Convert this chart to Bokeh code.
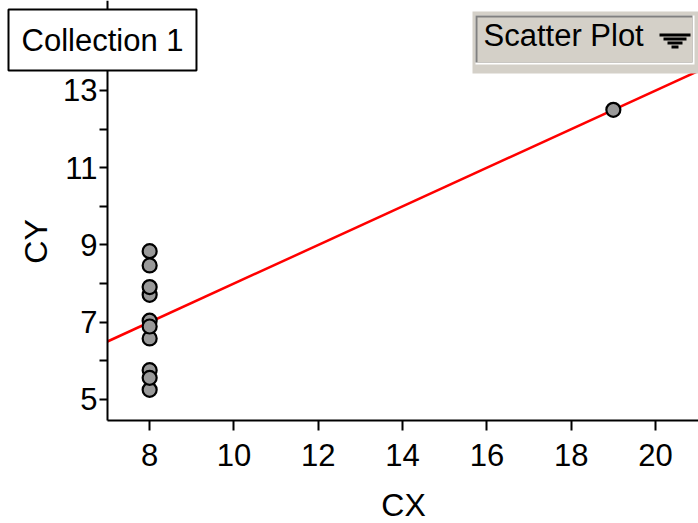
import numpy as np
from bokeh.plotting import figure
from bokeh.models import Label, BoxAnnotation, FixedTicker, Range1d
from bokeh.embed import file_html
from bokeh.resources import INLINE

# Data (Anscombe-like collection)
cx = [8, 8, 8, 8, 8, 8, 8, 19, 8, 8, 8]
cy = [6.58, 5.76, 7.71, 8.84, 8.47, 7.04, 5.25, 12.50, 5.56, 7.91, 6.89]
x_ticks = [8, 10, 12, 14, 16, 18, 20]
y_ticks = [5, 6, 7, 8, 9, 10, 11, 12, 13, 14, 15]
y_labeled = [5, 7, 9, 11, 13]
collection_name = "Collection 1"
menu_text = "Scatter Plot"
x_title = "CX"
y_title = "CY"
X_MIN, X_MAX = 7, 21.02      # extent of the x axis
Y_MIN, Y_MAX = 4.456, 15.33  # extent of the y axis

slope, intercept = np.polyfit(cx, cy, 1)

W, H = 698, 523
AX_LEFT, AX_BOTTOM = 107, 420    # pixel position of the y axis / x axis
PX_PER_X = (W - AX_LEFT) / (X_MAX - X_MIN)
PX_PER_Y = AX_BOTTOM / (Y_MAX - Y_MIN)
FONT = "Liberation Sans"

def sx(px):
    return px

def sy(py):
    return H - py

p = figure(width=W, height=H, output_backend="svg", toolbar_location=None,
           x_range=Range1d(X_MIN - AX_LEFT / PX_PER_X, X_MAX),
           y_range=Range1d(Y_MIN - (H - AX_BOTTOM) / PX_PER_Y, Y_MAX),
           min_border_left=0, min_border_right=0, min_border_top=0,
           min_border_bottom=0)
p.grid.visible = False
p.outline_line_color = None
p.background_fill_color = "white"
p.border_fill_color = "white"

# least-squares line over the axis extent
lx = np.array([X_MIN, X_MAX])
p.line(lx, intercept + slope * lx, line_color="red", line_width=2.5)

p.scatter(cx, cy, size=14, fill_color="#999999", line_color="black", line_width=2.2)

for ax in (p.xaxis[0], p.yaxis[0]):
    ax.axis_line_width = 2
    ax.axis_line_color = "black"
    ax.major_tick_line_width = 2
    ax.major_tick_line_color = "black"
    ax.minor_tick_line_color = None
    ax.major_tick_in = 0
    ax.major_label_text_font = FONT
    ax.major_label_text_font_size = "31px"
    ax.major_label_text_color = "black"

p.xaxis.fixed_location = Y_MIN
p.xaxis.ticker = FixedTicker(ticks=x_ticks)
p.xaxis.bounds = (X_MIN, X_MAX)
p.xaxis.major_tick_out = 10
p.xaxis.major_label_standoff = 13

p.yaxis.fixed_location = X_MIN
p.yaxis.bounds = (Y_MIN, Y_MAX)
p.yaxis.ticker = FixedTicker(ticks=y_ticks)
p.yaxis.major_label_overrides = {t: ("" if t not in y_labeled else str(t)) for t in y_ticks}
p.yaxis.major_tick_out = 8
p.yaxis.major_label_standoff = 2

# axis titles
p.add_layout(Label(x=sx(403), y=sy(504), x_units="screen", y_units="screen",
                   text=x_title, text_font=FONT, text_font_size="32px",
                   text_color="black", text_align="center", text_baseline="middle"))
p.add_layout(Label(x=sx(35), y=sy(241), x_units="screen", y_units="screen",
                   text=y_title, text_font=FONT, text_font_size="32px", angle=np.pi / 2,
                   text_color="black", text_align="center", text_baseline="middle"))

# "Scatter Plot" menu button (bevelled panel)
panel = dict(left_units="screen", right_units="screen", top_units="screen",
             bottom_units="screen", level="overlay", line_color=None)
p.add_layout(BoxAnnotation(left=sx(472), right=sx(698), top=sy(11), bottom=sy(73),
                           fill_color="#d4d0c8", fill_alpha=1, **panel))
p.add_layout(BoxAnnotation(left=sx(475), right=sx(694), top=sy(15), bottom=sy(64),
                           fill_color="white", fill_alpha=1, **panel))
p.add_layout(BoxAnnotation(left=sx(475), right=sx(692), top=sy(15), bottom=sy(62),
                           fill_color="#808080", fill_alpha=1, **panel))
p.add_layout(BoxAnnotation(left=sx(477), right=sx(692), top=sy(17), bottom=sy(62),
                           fill_color="#d4d0c8", fill_alpha=1, **panel))
# stripes of the drop-down arrow
for i, (l, r) in enumerate([(659, 690), (663, 686), (667, 682), (671, 678)]):
    top = 33 + 4 * i
    p.add_layout(BoxAnnotation(left=sx(l), right=sx(r), top=sy(top), bottom=sy(top + 3),
                               fill_color="black", fill_alpha=1, **panel))
p.add_layout(Label(x=sx(483), y=sy(17), x_units="screen", y_units="screen",
                   text=menu_text, text_font=FONT, text_font_size="31px",
                   text_color="black", text_align="left", text_baseline="top",
                   level="overlay"))

# "Collection 1" box
p.add_layout(Label(x=sx(8), y=sy(9), x_units="screen", y_units="screen",
                   text=collection_name, text_font=FONT, text_font_size="31px",
                   text_color="black", text_align="left", text_baseline="top",
                   background_fill_color="white", border_line_color="black",
                   border_line_width=2, padding=13, level="overlay"))

open("out.html", "w").write(file_html(p, INLINE))
